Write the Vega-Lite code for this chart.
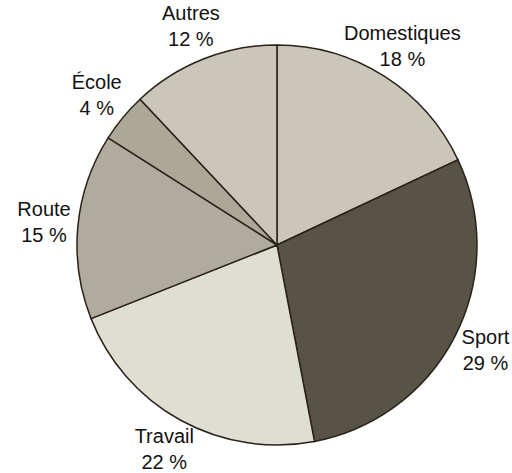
{
  "$schema": "https://vega.github.io/schema/vega-lite/v6.json",
  "width": 470,
  "height": 456,
  "autosize": "none",
  "padding": {"left": 42, "top": 17, "right": 0, "bottom": 0},
  "background": "white",
  "view": {"stroke": null},
  "data": {
    "values": [
      {"rank": 1, "cat": "Domestiques", "value": 18, "label": "18 %"},
      {"rank": 2, "cat": "Sport", "value": 29, "label": "29 %"},
      {"rank": 3, "cat": "Travail", "value": 22, "label": "22 %"},
      {"rank": 4, "cat": "Route", "value": 15, "label": "15 %"},
      {"rank": 5, "cat": "École", "value": 4, "label": "4 %"},
      {"rank": 6, "cat": "Autres", "value": 12, "label": "12 %"}
    ]
  },
  "encoding": {
    "theta": {"field": "value", "type": "quantitative", "stack": true},
    "order": {"field": "rank", "type": "quantitative"}
  },
  "layer": [
    {
      "mark": {"type": "arc", "radius": 200, "stroke": "#2a2218", "strokeWidth": 1.5},
      "encoding": {
        "color": {
          "field": "cat",
          "type": "nominal",
          "scale": {
            "domain": ["Domestiques", "Sport", "Travail", "Route", "École", "Autres"],
            "range": ["#cac7ba", "#575445", "#dfded3", "#afab9d", "#aca898", "#cac7ba"]
          },
          "legend": null
        }
      }
    },
    {
      "mark": {"type": "text", "radius": 234, "dy": -13, "font": "Liberation Sans", "fontSize": 20, "color": "#111111", "baseline": "middle", "align": "center"},
      "encoding": {"text": {"field": "cat", "type": "nominal"}}
    },
    {
      "mark": {"type": "text", "radius": 234, "dy": 13, "font": "Liberation Sans", "fontSize": 20, "color": "#111111", "baseline": "middle", "align": "center"},
      "encoding": {"text": {"field": "label", "type": "nominal"}}
    }
  ]
}
